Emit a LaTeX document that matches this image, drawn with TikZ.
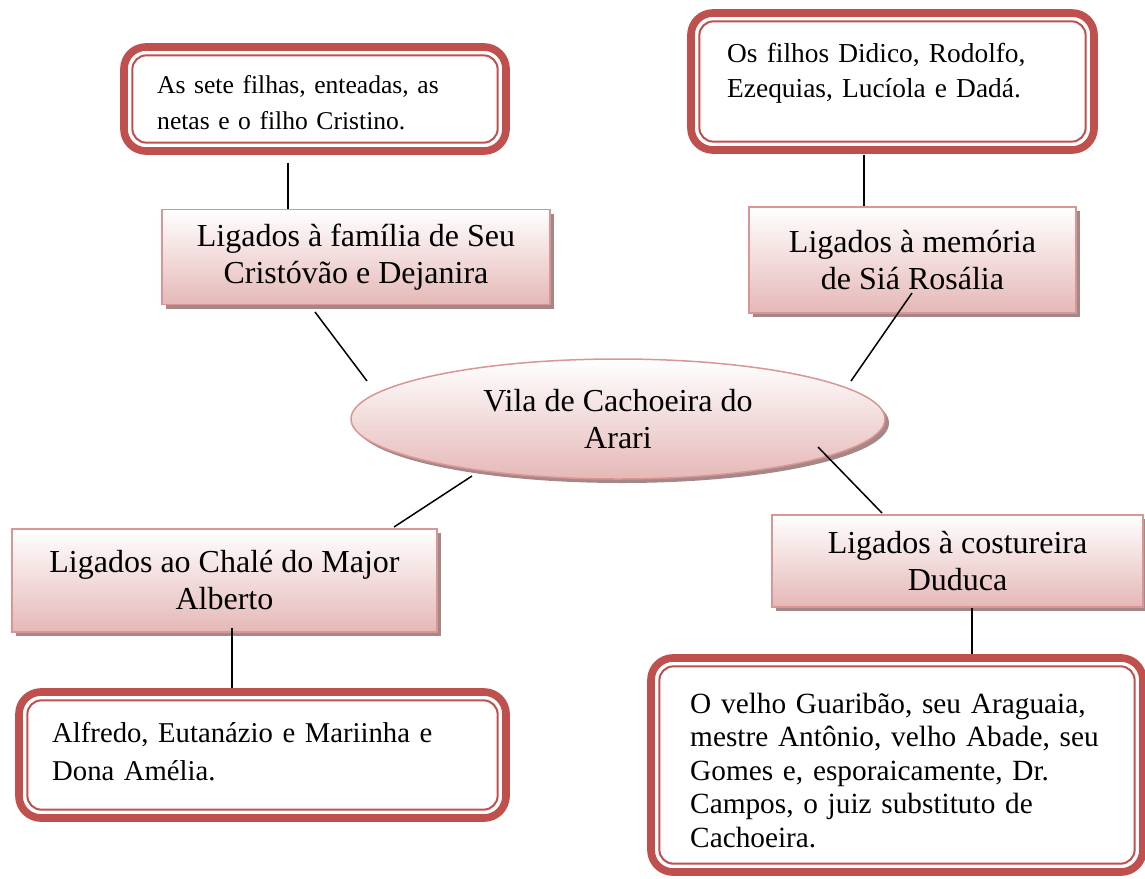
\documentclass[tikz,border=0pt]{standalone}
\usepackage{fontspec}
\setmainfont{Liberation Serif}
\usetikzlibrary{shapes.geometric,shadows}
\definecolor{framered}{HTML}{C0504D}
\definecolor{rectborder}{HTML}{D99694}
\definecolor{rectpink}{HTML}{E5B8B7}
\definecolor{shadowc}{RGB}{165,135,135}
\tikzset{
  frame/.style={draw=framered, line width=7.7pt, rounded corners=22pt, inner sep=0pt, fill=white},
  innerframe/.style={draw=framered, line width=2pt, rounded corners=14pt},
  topic/.style={draw=rectborder, line width=1.5pt, top color=white, bottom color=rectpink,
    general shadow={fill=shadowc, shadow xshift=4pt, shadow yshift=-4pt},
    inner sep=0pt, align=center, font=\fontsize{32pt}{37pt}\selectfont},
  boxtext/.style={anchor=base west, inner sep=0pt, align=left, text width=460pt},
  link/.style={draw=black, line width=1.5pt}
}
\newcommand{\drawinner}[1]{\draw[innerframe] ([xshift=12.2pt,yshift=-12.2pt]#1.north west) rectangle ([xshift=-12.2pt,yshift=12.2pt]#1.south east);}
\begin{document}
\begin{tikzpicture}[x=1pt,y=-1pt]
\clip (0,0) rectangle (1145,878);
\fill[white] (0,0) rectangle (1145,878);

% frames
\node[frame, minimum width=382pt, minimum height=104pt] (tlbox) at (315,99) {};
\drawinner{tlbox}
\node[frame, minimum width=403pt, minimum height=137pt] (trbox) at (892.5,81.5) {};
\drawinner{trbox}
\node[frame, minimum width=487pt, minimum height=126pt] (blbox) at (262.5,755) {};
\drawinner{blbox}
\node[frame, minimum width=492pt, minimum height=214pt] (brbox) at (897,765) {};
\drawinner{brbox}

% frame texts
\node[boxtext, font=\fontsize{25.6pt}{36pt}\selectfont] (tltext) at (157,93)
  {As sete filhas, enteadas, as\\netas e o filho Cristino.};
\node[boxtext, font=\fontsize{27.4pt}{35pt}\selectfont] (trtext) at (727,62)
  {Os filhos Didico, Rodolfo,\\Ezequias, Lucíola e Dadá.};
\node[boxtext, font=\fontsize{28.7pt}{38pt}\selectfont] (bltext) at (52,742)
  {Alfredo, Eutanázio e Mariinha e\\Dona Amélia.};
\node[boxtext, font=\fontsize{29.3pt}{33.5pt}\selectfont] (brtext) at (690,713)
  {O velho Guaribão, seu Araguaia,\\mestre Antônio, velho Abade, seu\\Gomes e, esporaicamente, Dr.\\Campos, o juiz substituto de\\Cachoeira.};

% topic rectangles
\node[topic, minimum width=388pt, minimum height=95pt] (tlrect) at (356,257)
  {Ligados à família de Seu\\Cristóvão e Dejanira};
\node[topic, minimum width=327pt, minimum height=106pt] (trrect) at (912.5,260)
  {Ligados à memória\\de Siá Rosália};
\node[topic, minimum width=425pt, minimum height=103pt] (blrect) at (224.5,580.5)
  {Ligados ao Chalé do Major\\Alberto};
\node[topic, minimum width=371pt, minimum height=92pt] (brrect) at (957.5,561)
  {Ligados à costureira\\Duduca};

% central ellipse
\node[topic, ellipse, minimum width=534pt, minimum height=120pt] (center) at (618,419)
  {Vila de Cachoeira do\\Arari};

% vertical connectors
\draw[link] ([xshift=-27pt,yshift=-8pt]tlbox.south) -- ([xshift=-27pt]tlbox.south |- tlrect.north);
\draw[link] ([xshift=-28.5pt,yshift=-1pt]trbox.south) -- ([xshift=-28.5pt]trbox.south |- trrect.north);
\draw[link] ([xshift=7.5pt,yshift=5pt]blrect.south) -- ([xshift=7.5pt]blrect.south |- blbox.north);
\draw[link] ([xshift=14.5pt]brrect.south) -- ([xshift=14.5pt]brrect.south |- brbox.north);

% diagonal connectors
\coordinate (tla) at (315,312);
\coordinate (tlb) at (367,381);
\coordinate (tra) at (912,293);
\coordinate (trb) at (851,381);
\coordinate (bra) at (818,447);
\coordinate (brb) at (882,513);
\coordinate (bla) at (472,476);
\coordinate (blb) at (394,527);
\draw[link] (tla) -- (tlb);
\draw[link] (tra) -- (trb);
\draw[link] (bra) -- (brb);
\draw[link] (bla) -- (blb);
\end{tikzpicture}
\end{document}
